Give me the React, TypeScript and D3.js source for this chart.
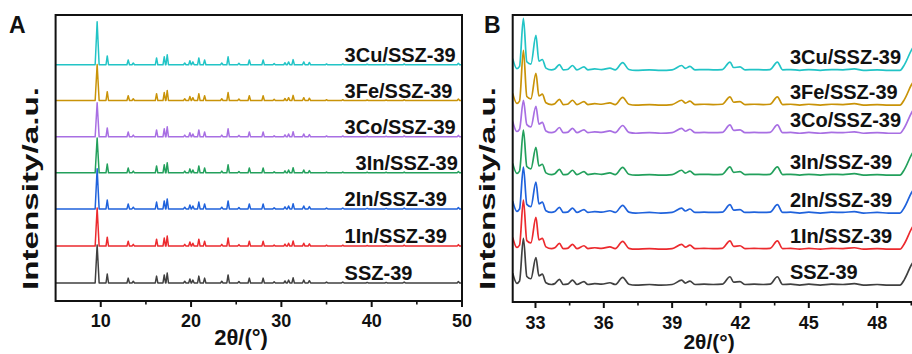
import * as d3 from "d3";
import { useEffect, useRef } from "react";

// Samples, bottom to top
const SAMPLES = ["SSZ-39", "1In/SSZ-39", "2In/SSZ-39", "3In/SSZ-39", "3Co/SSZ-39", "3Fe/SSZ-39", "3Cu/SSZ-39"];
const COLORS = ["#404040", "#ec2a2e", "#1f62dc", "#23a05c", "#a86fe3", "#c99308", "#22c4c6"];

// Panel A: reflections (2θ) with heights; index 0 (9.6°) comes from MAIN_A
const PEAK_POS_A = [9.6, 10.72, 13.04, 13.6, 16.18, 17.03, 17.36, 19.3, 19.87, 20.2, 20.86, 21.5, 23.4, 24.1, 25.3, 26.45, 27.98, 29.2, 30.4, 30.8, 31.3, 32.48, 33.1, 35.0, 36.8, 39.5, 41.6, 43.6, 49.6];
const PEAK_H_A = [0, 31, 17, 6, 24, 28, 35, 6, 14, 10, 24, 17, 6, 28, 5, 17, 17, 4, 7, 10, 18, 10, 8, 3, 3, 2, 2, 3, 5];
const MAIN_A = [133, 133, 140, 122, 119, 126, 150];
const OFFSET_A = [63, 192, 322, 448, 574, 701, 826];

// Panel B: traced vertices (2θ, intensity) of the zoomed pattern; nulls are the 32.5° and 33.0° lines
const TRACE_X_B = [32.0, 32.18, 32.3, 32.47, 32.62, 32.8, 33.02, 33.15, 33.3, 33.46, 33.7, 33.85, 34.05, 34.22, 34.4, 34.63, 34.82, 35.13, 35.3, 35.6, 35.9, 36.27, 36.5, 36.83, 37.1, 37.4, 38.0, 38.5, 39.0, 39.42, 39.58, 39.78, 40.0, 40.4, 40.8, 41.2, 41.54, 41.7, 41.98, 42.2, 42.6, 43.0, 43.3, 43.62, 43.85, 44.2, 44.6, 45.0, 45.5, 46.0, 46.5, 47.0, 47.4, 48.0, 48.5, 49.0, 49.2, 49.5, 49.8];
const TRACE_Y_B = [41, 6, 14, null, 30, 22, null, 32, 38, 8, 2, 5, 20, 2, 3, 17, 2, 12, 2, 5, 3, 8, 2, 27, 3, 0, 2, 0, 2, 17, 7, 14, 2, 3, 2, 3, 29, 10, 12, 2, 3, 2, 3, 29, 2, 3, 0, 3, 0, 3, 2, 5, 0, 2, 0, 0, 20, 70, 105];
const MAIN1_B = [163, 171, 160, 157, 115, 191, 181];
const MAIN2_B = [96, 111, 108, 97, 94, 111, 122];
const OFFSET_B = [59, 184, 310, 442, 588, 686, 807];

const TICKS_A = [10, 20, 30, 40, 50];
const MINOR_A = [15, 25, 35, 45];
const TICKS_B = [33, 36, 39, 42, 45, 48];
const MINOR_B = [34.5, 37.5, 40.5, 43.5, 46.5, 49.5];

const FONT = '"Liberation Sans", Arial, Helvetica, sans-serif';

export default function App() {
  const ref = useRef<SVGSVGElement>(null);

  useEffect(() => {
    if (!ref.current) return;
    const svg = d3.select(ref.current);
    svg.selectAll("*").remove();

    const top = 15;

    const drawFrame = (
      x: d3.ScaleLinear<number, number>,
      bottom: number,
      major: number[],
      minor: number[],
      tickBase: number,
    ) => {
      const [x0, x1] = x.range();
      svg.append("rect")
        .attr("x", x0).attr("y", top)
        .attr("width", x1 - x0).attr("height", bottom - top)
        .attr("fill", "none").attr("stroke", "#111").attr("stroke-width", 2);
      major.forEach((t) => {
        svg.append("line")
          .attr("x1", x(t)).attr("x2", x(t))
          .attr("y1", bottom).attr("y2", bottom + 6)
          .attr("stroke", "#111").attr("stroke-width", 2);
        svg.append("text")
          .attr("x", x(t)).attr("y", tickBase)
          .attr("text-anchor", "middle")
          .attr("font-family", FONT).attr("font-weight", 700).attr("font-size", 18)
          .attr("fill", "#111")
          .text(t);
      });
      minor.forEach((t) => {
        svg.append("line")
          .attr("x1", x(t)).attr("x2", x(t))
          .attr("y1", bottom).attr("y2", bottom + 3.5)
          .attr("stroke", "#111").attr("stroke-width", 1.6);
      });
    };

    const yTitle = (cx: number) => {
      svg.append("text")
        .attr("transform", `translate(${cx},188.5) rotate(-90)`)
        .attr("text-anchor", "middle")
        .attr("font-family", FONT).attr("font-weight", 700).attr("font-size", 22)
        .attr("textLength", 203).attr("lengthAdjust", "spacingAndGlyphs")
        .attr("fill", "#111")
        .text("Intensity/a.u.");
    };

    const xTitle = (cx: number, base: number, size: number) => {
      svg.append("text")
        .attr("x", cx).attr("y", base)
        .attr("text-anchor", "middle")
        .attr("font-family", FONT).attr("font-weight", 700).attr("font-size", size)
        .attr("fill", "#111")
        .text("2θ/(°)");
    };

    const panelLetter = (px: number, s: string) => {
      svg.append("text")
        .attr("x", px).attr("y", 33)
        .attr("font-family", FONT).attr("font-weight", 700).attr("font-size", 23)
        .attr("fill", "#111")
        .text(s);
    };

    // ─── Panel A ───────────────────────────────────────────
    const xA = d3.scaleLinear().domain([5, 50]).range([55.6, 462]);
    const yA = d3.scaleLinear().domain([0, 1000]).range([301, top]);

    SAMPLES.forEach((name, s) => {
      const pts: [number, number][] = [[5, 0], [50, 0]];
      PEAK_POS_A.forEach((p, i) => {
        const h = i === 0 ? MAIN_A[s] : PEAK_H_A[i];
        const w = i === 0 ? 0.22 : 0.14;
        pts.push([p - w, 0], [p, h], [p + w, 0]);
      });
      pts.sort((a, b) => a[0] - b[0]);
      const line = d3.line<[number, number]>()
        .x((d) => xA(d[0]))
        .y((d) => yA(d[1] + OFFSET_A[s]));
      svg.append("path")
        .attr("d", line(pts))
        .attr("fill", "none")
        .attr("stroke", COLORS[s])
        .attr("stroke-width", 1.5)
        .attr("stroke-linejoin", "round");
      svg.append("text")
        .attr("x", xA(37.0) + (name === "3In/SSZ-39" ? 11 : 0))
        .attr("y", yA(OFFSET_A[s]) - 3)
        .attr("font-family", FONT).attr("font-weight", 700).attr("font-size", 20)
        .attr("fill", "#111")
        .text(name);
    });
    drawFrame(xA, 301, TICKS_A, MINOR_A, 327);
    yTitle(38);
    xTitle(241, 345, 22);
    panelLetter(9, "A");

    // ─── Panel B ───────────────────────────────────────────
    const xB = d3.scaleLinear().domain([32, 50]).range([512.7, 922.7]);
    const yB = d3.scaleLinear().domain([0, 1000]).range([302, top]);

    SAMPLES.forEach((name, s) => {
      let k = 0;
      const pts: [number, number][] = TRACE_X_B.map((xv, i) => {
        let v = TRACE_Y_B[i];
        if (v === null) {
          v = k === 0 ? MAIN1_B[s] : MAIN2_B[s];
          k++;
        }
        return [xv, v as number];
      });
      const line = d3.line<[number, number]>()
        .x((d) => xB(d[0]))
        .y((d) => yB(d[1] + OFFSET_B[s]))
        .curve(d3.curveMonotoneX);
      svg.append("path")
        .attr("d", line(pts))
        .attr("fill", "none")
        .attr("stroke", COLORS[s])
        .attr("stroke-width", 1.7)
        .attr("stroke-linejoin", "round");
      svg.append("text")
        .attr("x", xB(44.17))
        .attr("y", yB(OFFSET_B[s]) - 6)
        .attr("font-family", FONT).attr("font-weight", 700).attr("font-size", 20)
        .attr("fill", "#111")
        .text(name);
    });
    drawFrame(xB, 302, TICKS_B, MINOR_B, 329);
    yTitle(495);
    xTitle(709, 349, 21);
    panelLetter(484, "B");
  }, []);

  return (
    <svg
      ref={ref}
      width={912}
      height={354}
      style={{ position: "absolute", left: 0, top: 0, background: "#fff" }}
    />
  );
}
